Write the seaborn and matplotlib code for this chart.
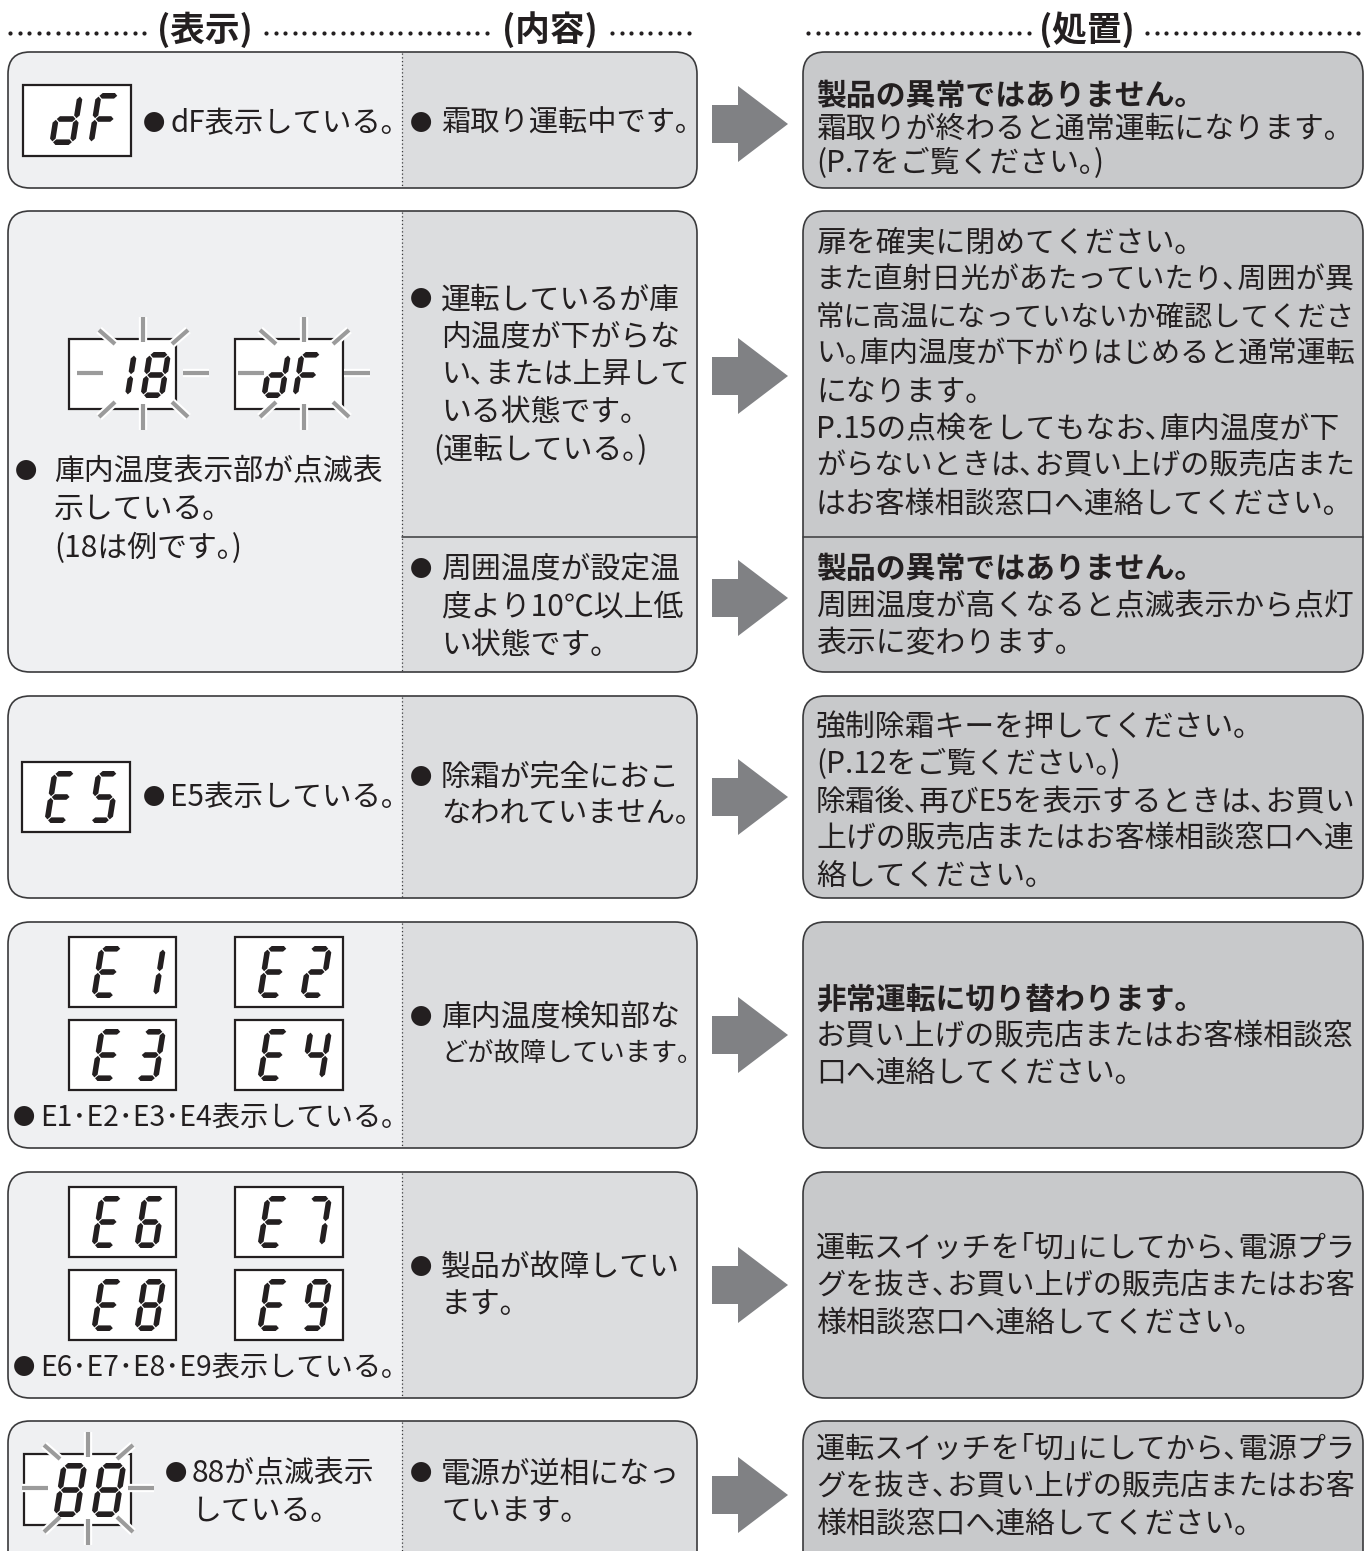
import matplotlib
matplotlib.use("Agg")
import matplotlib.pyplot as plt
import matplotlib.patheffects as pe
from matplotlib.patches import FancyBboxPatch, Rectangle, Polygon
import numpy as np
import seaborn as sns

# ---- content -------------------------------------------------------------
headers = ["(表示)", "(内容)", "(処置)"]

display_codes = [["dF"], ["18", "dF"], ["E5"],
                 ["E1", "E2", "E3", "E4"], ["E6", "E7", "E8", "E9"], ["88"]]
blinking = [False, True, False, False, False, True]

display_notes = [
    ["dF表示している。"],
    ["庫内温度表示部が点滅表", "示している。", "(18は例です。)"],
    ["E5表示している。"],
    ["E1·E2·E3·E4表示している。"],
    ["E6·E7·E8·E9表示している。"],
    ["88が点滅表示", "している。"],
]

contents = [
    [["霜取り運転中です。"]],
    [["運転しているが庫", "内温度が下がらな", "い、または上昇して", "いる状態です。", "(運転している。)"],
     ["周囲温度が設定温", "度より10℃以上低", "い状態です。"]],
    [["除霜が完全におこ", "なわれていません。"]],
    [["庫内温度検知部な", "どが故障しています。"]],
    [["製品が故障してい", "ます。"]],
    [["電源が逆相になっ", "ています。"]],
]

action_heads = [
    ["製品の異常ではありません。"],
    [None, "製品の異常ではありません。"],
    [None],
    ["非常運転に切り替わります。"],
    [None],
    [None],
]

action_lines = [
    [["霜取りが終わると通常運転になります。", "(P.7をご覧ください。)"]],
    [["扉を確実に閉めてください。",
      "また直射日光があたっていたり、周囲が異",
      "常に高温になっていないか確認してくださ",
      "い。庫内温度が下がりはじめると通常運転",
      "になります。",
      "P.15の点検をしてもなお、庫内温度が下",
      "がらないときは、お買い上げの販売店また",
      "はお客様相談窓口へ連絡してください。"],
     ["周囲温度が高くなると点滅表示から点灯", "表示に変わります。"]],
    [["強制除霜キーを押してください。",
      "(P.12をご覧ください。)",
      "除霜後、再びE5を表示するときは、お買い",
      "上げの販売店またはお客様相談窓口へ連",
      "絡してください。"]],
    [["お買い上げの販売店またはお客様相談窓", "口へ連絡してください。"]],
    [["運転スイッチを「切」にしてから、電源プラ",
      "グを抜き、お買い上げの販売店またはお客",
      "様相談窓口へ連絡してください。"]],
    [["運転スイッチを「切」にしてから、電源プラ",
      "グを抜き、お買い上げの販売店またはお客",
      "様相談窓口へ連絡してください。"]],
]

# ---- layout (pixels) -----------------------------------------------------
row_top = [52, 211, 696, 922, 1172, 1421]
row_bot = [188, 672, 898, 1148, 1398, 1580]
split_y = 537                      # sub-row divider in row 2
content_y = [[124], [300, 570], [777], [1017], [1267], [1474]]
action_y = [[96], [243, 569], [727], [1000], [1249], [1450]]
arrow_y = [[124], [376, 598], [797], [1035], [1285], [1495]]
note_pos = [(146, 124), (18, 472), (146, 797), (16, 1118), (16, 1368), (168, 1474)]

# boxes: (left, top, width, height), glyph placement (x0, W), glyph top, glyph height
E_BOX = [(22, 25), (65, 24)]
disp_layout = [
    [((23, 85, 108, 71), [(49, 26), (88, 25)], 93, 52)],
    [((69, 339, 107, 70), [(106, 24), (140, 24)], 352, 46),
     ((235, 339, 108, 70), [(261, 23), (292, 24)], 352, 46)],
    [((22, 762, 108, 70), [(44, 25), (88, 24)], 771, 52)],
    [((69, 937, 107, 70), None, 946, 52), ((235, 937, 108, 70), None, 946, 52),
     ((69, 1020, 107, 70), None, 1029, 52), ((235, 1020, 108, 70), None, 1029, 52)],
    [((69, 1187, 107, 70), None, 1196, 52), ((235, 1187, 108, 70), None, 1196, 52),
     ((69, 1270, 107, 70), None, 1279, 52), ((235, 1270, 108, 70), None, 1279, 52)],
    [((24, 1454, 107, 71), [(53, 26), (91, 27)], 1463, 54)],
]
burst_center = {(1, 0): (143, 373), (1, 1): (304, 373), (5, 0): (88, 1488)}

C_LEFT, C_MID, C_RIGHT = "#eff0f2", "#dcdddf", "#c8c9cb"
C_EDGE, C_ARROW, C_RAY, C_INK = "#3a3a3c", "#808184", "#9b9b9b", "#231f20"
FS, LH = 21.5, 37.5

SEGS = {"1": "bc", "2": "abged", "3": "abgcd", "4": "fgbc", "5": "afgcd",
        "6": "afgedc", "7": "abc", "8": "abcdefg", "9": "abcdfg",
        "E": "afged", "F": "afge", "d": "bcdeg"}

# proportional (half-width) punctuation as in the printed sheet
HALF = str.maketrans({"、": "､", "。": "｡", "「": "｢", "」": "｣", "·": "･"})

sns.set_theme(style="white")
plt.rcParams["font.family"] = ["Noto Sans CJK JP", "DejaVu Sans"]

fig = plt.figure(figsize=(13.65, 15.51), dpi=100)
ax = fig.add_axes([0, 0, 1, 1])
ax.set_xlim(0, 1365)
ax.set_ylim(1551, 0)
ax.axis("off")
renderer = fig.canvas.get_renderer()


def put(x, y, s, limit=None, fs=FS, **kw):
    t = ax.text(x, y, s.translate(HALF), fontsize=fs, va="center", ha="left",
                color=C_INK, zorder=8, **kw)
    if limit is not None:
        bb = t.get_window_extent(renderer)
        if bb.x1 > limit:
            t.set_fontsize(fs * (limit - x) / (bb.x1 - x))
    return t


def rbox(x, y, w, h, fc, ec="none", lw=0, z=1, r=22):
    p = FancyBboxPatch((x, y), w, h, boxstyle=f"round,pad=0,rounding_size={r}",
                       fc=fc, ec=ec, lw=lw, zorder=z)
    ax.add_patch(p)
    return p


def seven_seg(ch, x0, ybot, w, h, slant=0.16, t=5.6):
    k = t / 2
    gap = 0.8

    def P(u, v):
        return (x0 + u + slant * v, ybot - v)

    def hseg(u1, u2, v):
        u1, u2 = u1 + gap, u2 - gap
        kk = min(k, (u2 - u1) / 2 - 0.3)
        return [P(u1, v), P(u1 + kk, v + k), P(u2 - kk, v + k), P(u2, v),
                P(u2 - kk, v - k), P(u1 + kk, v - k)]

    def vseg(u, v1, v2):
        v1, v2 = v1 + gap, v2 - gap
        return [P(u, v1), P(u + k, v1 + k), P(u + k, v2 - k), P(u, v2),
                P(u - k, v2 - k), P(u - k, v1 + k)]

    L, R, B, T, M = k, w - k, k, h - k, h / 2
    shapes = {"a": hseg(L, R, T), "g": hseg(L, R, M), "d": hseg(L, R, B),
              "f": vseg(L, M, T), "e": vseg(L, B, M),
              "b": vseg(R, M, T), "c": vseg(R, B, M)}
    for s in SEGS[ch]:
        ax.add_patch(Polygon(shapes[s], closed=True, fc=C_INK, ec="none", zorder=6))


def burst(cx, cy):
    rays = [((-66, 0), (-40, 0)), ((40, 0), (66, 0)), ((0, -56), (0, -31)),
            ((0, 31), (0, 57)), ((-44, -43), (-28, -29)), ((29, -29), (45, -43)),
            ((-44, 44), (-28, 29)), ((29, 29), (45, 44))]
    for (x1, y1), (x2, y2) in rays:
        ax.plot([cx + x1, cx + x2], [cy + y1, cy + y2], color=C_RAY, lw=3,
                solid_capstyle="butt", zorder=7,
                path_effects=[pe.Stroke(linewidth=6, foreground="white"), pe.Normal()])


def arrow(cy):
    pts = [(712, cy - 19), (738, cy - 19), (738, cy - 38), (788, cy),
           (738, cy + 38), (738, cy + 19), (712, cy + 19)]
    ax.add_patch(Polygon(pts, closed=True, fc=C_ARROW, ec="none", zorder=3))


def bullet(x, y):
    ax.text(x - 3, y, "●", fontsize=16, va="center", ha="left", color=C_INK, zorder=8)


# ---- header ---------------------------------------------------------------
head_x = [205, 550, 1087]
for hx, s in zip(head_x, headers):
    ax.text(hx, 30, s, fontsize=25, fontweight="bold", ha="center", va="center",
            color=C_INK)
for a, b in [(10, 145), (266, 488), (612, 692), (808, 1030), (1147, 1365)]:
    xs = np.arange(a, b, 9.6)
    ax.plot(xs, np.full_like(xs, 33.0), ls="none", marker="o", ms=3.0,
            color=C_INK, mec="none")

# ---- rows -----------------------------------------------------------------
for i in range(len(display_codes)):
    top, bot = row_top[i], row_bot[i]
    h = bot - top
    rbox(8, top, 689, h, C_LEFT, z=1)
    mid = rbox(8, top, 689, h, C_MID, z=2)
    mid.set_clip_path(Rectangle((402, top - 5), 300, h + 10, transform=ax.transData))
    rbox(8, top, 689, h, "none", ec=C_EDGE, lw=1.2, z=4)
    ax.plot([402, 402], [top + 1, bot - 1], ls=(0, (1, 2)), lw=0.9, color=C_EDGE, zorder=4)
    rbox(803, top, 560, h, C_RIGHT, ec=C_EDGE, lw=1.2, z=2)

    if len(contents[i]) > 1:
        ax.plot([402, 697], [split_y, split_y], color=C_EDGE, lw=1.1, zorder=4)
        ax.plot([803, 1363], [split_y, split_y], color=C_EDGE, lw=1.1, zorder=4)

    # displays
    for j, code in enumerate(display_codes[i]):
        (bx, by, bw, bh), glyphs, ytop, gh = disp_layout[i][j]
        if glyphs is None:
            glyphs = [(bx + dx, w) for dx, w in E_BOX]
        ax.add_patch(Rectangle((bx, by), bw, bh, fc="white", ec=C_INK, lw=1.6, zorder=5))
        for ch, (gx, gw) in zip(code, glyphs):
            seven_seg(ch, gx, ytop + gh, gw, gh)
        if blinking[i]:
            burst(*burst_center[(i, j)])

    # note under / beside display
    nx, ny = note_pos[i]
    bullet(nx, ny)
    indent = 36 if i == 1 else 24
    for j, s in enumerate(display_notes[i]):
        put(nx + indent, ny + j * 38, s, limit=396)

    # content column
    for k, lines in enumerate(contents[i]):
        y0 = content_y[i][k]
        bullet(413, y0)
        for j, s in enumerate(lines):
            xx = 433 if s.startswith("(") else 441
            put(xx, y0 + j * LH, s, limit=690)

    # action column
    for k, lines in enumerate(action_lines[i]):
        y = action_y[i][k]
        lh = 33.5 if i == 0 else 37.3
        head = action_heads[i][k]
        if head:
            put(816, y, head, limit=1356, fontweight="bold")
            y += lh
        for s in lines:
            put(816, y, s, limit=1356)
            y += lh

    for cy in arrow_y[i]:
        arrow(cy)

fig.savefig("out.png", dpi=100, facecolor="white")
